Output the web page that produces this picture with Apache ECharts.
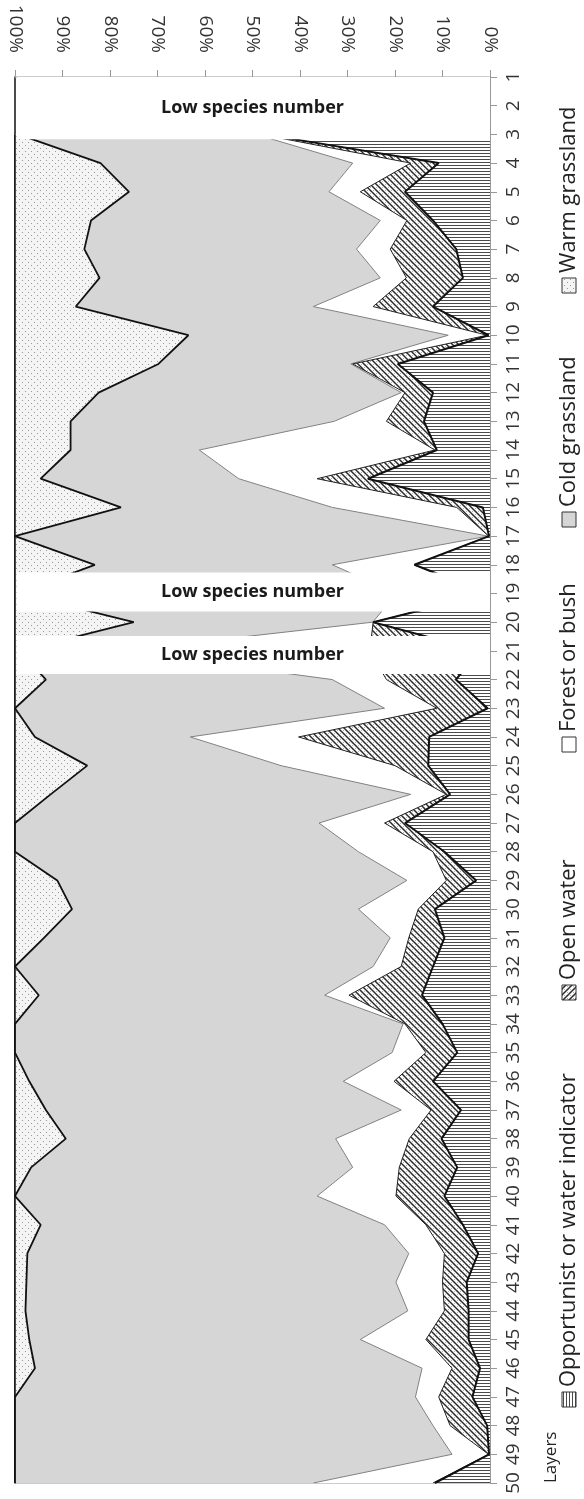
<!DOCTYPE html>
<html><head><meta charset="utf-8">
<script src="https://cdn.jsdelivr.net/npm/echarts@6/dist/echarts.min.js"></script>
<style>html,body{margin:0;padding:0;background:#fff}#c{width:584px;height:1499px}</style>
</head><body><div id="c"></div>
<script>
// ---- data ----
const layers = ['1','2','3','4','5','6','7','8','9','10','11','12','13','14','15','16','17','18','19','20','21','22','23','24','25','26','27','28','29','30','31','32','33','34','35','36','37','38','39','40','41','42','43','44','45','46','47','48','49','50'];
const seriesNames = ['Opportunist or water indicator','Open water','Forest or bush','Cold grassland','Warm grassland'];
const opportunist = [null,null,47.5,10.8,17.9,12.0,7.1,5.7,12.0,0.3,19.4,12.0,13.9,11.2,25.7,1.5,0.2,15.9,0.5,24.6,2.0,7.2,0.5,12.8,13.0,8.4,17.9,9.6,2.9,11.6,9.6,12.0,14.3,10.0,6.9,12.0,6.1,10.2,6.9,9.6,5.7,2.5,4.9,4.5,4.5,2.1,3.7,0.6,0.2,11.6];
const openWater   = [null,null,0.8,5.9,9.4,5.5,13.9,11.9,12.6,0.3,9.5,5.9,7.9,0.4,10.7,5.5,0.1,0.1,0.5,0.0,23.3,14.6,10.7,27.5,7.0,0.8,4.3,2.4,6.3,3.5,7.5,6.7,15.4,7.9,6.6,8.2,6.3,6.8,12.2,10.2,7.8,7.1,5.1,5.1,9.0,5.9,7.1,7.8,0.1,0.4];
const forestBush  = [null,null,1.0,12.2,6.6,5.6,7.1,5.5,12.6,8.2,0.4,0.8,11.0,49.6,16.5,26.2,0.1,17.2,18.6,0.1,52.7,11.4,11.0,22.8,24.0,7.5,13.8,15.7,8.3,12.6,3.9,5.9,5.1,0.4,7.1,10.7,6.3,15.5,9.8,16.6,8.7,7.5,9.8,7.7,13.8,6.3,4.9,3.6,7.7,25.2];
const coldGrass   = [null,null,50.0,53.1,42.1,60.9,57.3,59.1,50.0,54.7,40.5,63.7,55.5,27.1,41.7,44.5,99.6,50.0,79.9,50.3,21.0,60.3,77.8,32.7,40.8,75.8,64.0,72.3,73.6,60.3,72.9,75.4,60.2,81.7,79.4,66.1,74.8,56.8,67.7,63.6,72.4,80.3,77.8,80.5,69.7,81.5,84.3,88.0,92.0,62.8];
const warmGrass   = [null,null,0.7,18.0,24.0,16.0,14.6,17.8,12.8,36.5,30.2,17.6,11.7,11.7,5.4,22.3,0.0,16.8,0.5,25.0,1.0,6.5,0.0,4.2,15.2,7.5,0.0,0.0,8.9,12.0,6.1,0.0,5.0,0.0,0.0,3.0,6.5,10.7,3.4,0.0,5.4,2.6,2.4,2.2,3.0,4.2,0.0,0.0,0.0,0.0];
const lowSpeciesBands = [[1,3.17],[18.27,19.63],[20.48,21.81]];
const bandLabel = 'Low species number';
const axisName = 'Layers';

// ---- patterns ----
function pat(w,h,draw){const c=document.createElement('canvas');c.width=w;c.height=h;const g=c.getContext('2d');g.fillStyle='#fff';g.fillRect(0,0,w,h);draw(g);return {image:c,repeat:'repeat'};}
const hLines = pat(4,3,g=>{g.fillStyle='#4a4a4a';g.fillRect(0,0,4,1);});
const cross = pat(6,6,g=>{g.strokeStyle='#2a2a2a';g.lineWidth=1.5;g.beginPath();g.moveTo(-1,-1);g.lineTo(7,7);g.moveTo(-1,5);g.lineTo(1,7);g.moveTo(5,-1);g.lineTo(7,1);g.stroke();g.strokeStyle='#9a9a9a';g.lineWidth=0.8;g.beginPath();g.moveTo(0,6);g.lineTo(6,0);g.stroke();});
const dots = pat(6,6,g=>{g.fillStyle='#f4f4f4';g.fillRect(0,0,6,6);g.fillStyle='#999';g.fillRect(1,1,1,1);g.fillRect(4,4,1,1);});
const fills=[hLines,cross,'#ffffff','#d6d6d6',dots];
const lineSt=[{c:'#111',w:2},{c:'#222',w:1},{c:'#808080',w:1},{c:'#111',w:1.8},{c:'#111',w:1.5}];
const values=[opportunist,openWater,forestBush,coldGrass,warmGrass];
const FONT='"Open Sans", "DejaVu Sans", sans-serif';

const series = values.map((d,i)=>({
  name:seriesNames[i], type:'line', stack:'total', data:d, xAxisIndex:0, yAxisIndex:0,
  showSymbol:false, symbol:'none', lineStyle:{color:lineSt[i].c,width:lineSt[i].w},
  areaStyle:{color:fills[i],opacity:1}, z:6-i, silent:true
}));
series.push({
  type:'custom', xAxisIndex:0, yAxisIndex:1, z:10, silent:true, data:lowSpeciesBands, encode:{y:[0,1]},
  renderItem:(params,api)=>{
    const a=api.coord([100,api.value(0)]); const b=api.coord([0,api.value(1)]);
    return {type:'group',children:[
      {type:'rect',shape:{x:a[0]+1.5,y:a[1],width:b[0]-a[0]-1.5,height:b[1]-a[1]},style:{fill:'#fff'}},
      {type:'text',style:{text:bandLabel,x:(a[0]+b[0])/2,y:(a[1]+b[1])/2,align:'center',verticalAlign:'middle',font:'bold 18px '+FONT,fill:'#1a1a1a'}}
    ]};
  }
});

// ---- legend (rotated) ----
const legendPos=[1407,1000,752,527,293];
const legendX=569;
const graphic=[];
seriesNames.forEach((n,i)=>{
  graphic.push({type:'group',x:legendX,y:legendPos[i],rotation:Math.PI/2,children:[
    {type:'rect',shape:{x:0,y:-7,width:15,height:14},style:{fill:fills[i],stroke:'#333',lineWidth:1}},
    {type:'text',style:{text:n,x:20,y:0,align:'left',verticalAlign:'middle',font:'22px '+FONT,fill:'#222'}}
  ]});
});
graphic.push({type:'group',x:551,y:1483,rotation:Math.PI/2,children:[
  {type:'text',style:{text:axisName,x:0,y:0,align:'left',verticalAlign:'middle',font:'17px '+FONT,fill:'#222'}}
]});

const chart = echarts.init(document.getElementById('c'),null,{renderer:'canvas'});
chart.setOption({
  animation:false,
  grid:{left:15,right:94,top:77,bottom:16,show:true,borderColor:'#999',borderWidth:1,containLabel:false},
  xAxis:{type:'value',position:'top',min:0,max:100,interval:10,inverse:true,
    axisLine:{show:true,onZero:false,lineStyle:{color:'#999'}},
    axisTick:{show:true,length:7,lineStyle:{color:'#999'}},
    axisLabel:{rotate:90,formatter:'{value}%',fontSize:19,color:'#333',fontFamily:FONT,margin:24},
    splitLine:{show:false}},
  yAxis:[
    {type:'category',data:layers,position:'right',inverse:true,boundaryGap:false,
     axisLine:{show:true,onZero:false,lineStyle:{color:'#999'}},
     axisTick:{show:true,length:7,interval:0,lineStyle:{color:'#999'}},
     axisLabel:{rotate:90,interval:0,fontSize:19,color:'#333',fontFamily:FONT,margin:14},
     splitLine:{show:false}},
    {type:'value',min:1,max:50,inverse:true,position:'left',
     axisLine:{show:true,onZero:false,lineStyle:{color:'#222',width:1.5}},
     axisTick:{show:false},axisLabel:{show:false},splitLine:{show:false}}
  ],
  series:series,
  graphic:graphic
});
</script></body></html>
